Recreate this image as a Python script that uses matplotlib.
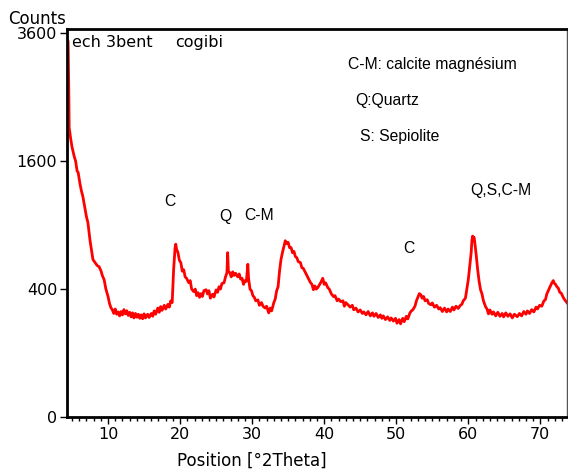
import numpy as np
import matplotlib
matplotlib.use("Agg")
import matplotlib.pyplot as plt
from matplotlib.ticker import MultipleLocator, FixedLocator

# --- data (position in °2Theta, counts) ---
two_theta = [
    4.45, 4.55, 4.6, 4.8, 5.0, 5.3, 5.5, 5.7, 5.85, 6.1,
    6.3, 6.5, 6.8, 7.0, 7.2, 7.5, 7.7, 7.9, 8.1, 8.3,
    8.5, 8.75, 9.03, 9.2, 9.45, 9.7, 10.0, 10.2, 10.4, 10.6,
    10.8, 11.0, 11.2, 11.4, 11.6, 11.8, 12.0, 12.2, 12.4, 12.6,
    12.8, 13.0, 13.2, 13.4, 13.6, 13.8, 14.0, 14.2, 14.4, 14.6,
    14.8, 15.0, 15.2, 15.5, 15.7, 16.0, 16.2, 16.4, 16.6, 16.9,
    17.1, 17.3, 17.5, 17.8, 18.0, 18.3, 18.5, 18.7, 18.9, 19.1,
    19.3, 19.4, 19.5, 19.7, 19.9, 20.1, 20.3, 20.5, 20.7, 20.9,
    21.2, 21.4, 21.6, 21.9, 22.1, 22.3, 22.5, 22.7, 22.9, 23.1,
    23.3, 23.6, 23.8, 24.0, 24.2, 24.5, 24.7, 25.0, 25.2, 25.4,
    25.6, 25.8, 26.1, 26.3, 26.5, 26.6, 26.7, 26.9, 27.1, 27.3,
    27.5, 27.7, 28.0, 28.2, 28.4, 28.6, 28.8, 29.0, 29.2, 29.4,
    29.5, 29.7, 29.9, 30.1, 30.3, 30.5, 30.8, 31.0, 31.3, 31.5,
    31.8, 32.0, 32.3, 32.5, 32.7, 33.0, 33.2, 33.4, 33.6, 33.8,
    34.0, 34.2, 34.4, 34.6, 34.8, 35.0, 35.2, 35.4, 35.6, 35.8,
    36.0, 36.2, 36.4, 36.7, 36.9, 37.1, 37.4, 37.6, 37.8, 38.1,
    38.3, 38.5, 38.7, 38.9, 39.1, 39.3, 39.5, 39.8, 40.0, 40.2,
    40.5, 40.7, 41.0, 41.3, 41.5, 41.8, 42.0, 42.3, 42.6, 42.8,
    43.0, 43.3, 43.6, 43.9, 44.1, 44.4, 44.7, 45.0, 45.3, 45.5,
    45.8, 46.1, 46.4, 46.7, 46.9, 47.2, 47.5, 47.8, 48.0, 48.2,
    48.5, 48.8, 49.1, 49.3, 49.6, 49.9, 50.1, 50.4, 50.6, 50.9,
    51.1, 51.4, 51.6, 51.9, 52.1, 52.3, 52.6, 52.8, 53.0, 53.2,
    53.4, 53.6, 53.8, 54.0, 54.3, 54.5, 54.8, 55.0, 55.3, 55.6,
    55.9, 56.1, 56.4, 56.7, 57.0, 57.2, 57.5, 57.8, 58.0, 58.3,
    58.6, 58.9, 59.1, 59.3, 59.6, 59.8, 60.0, 60.2, 60.4, 60.5,
    60.6, 60.7, 60.8, 60.9, 61.1, 61.3, 61.5, 61.7, 61.9, 62.1,
    62.4, 62.6, 62.8, 63.0, 63.3, 63.5, 63.8, 64.1, 64.4, 64.7,
    64.9, 65.2, 65.5, 65.8, 66.1, 66.4, 66.8, 67.1, 67.4, 67.7,
    68.0, 68.2, 68.5, 68.8, 69.1, 69.4, 69.6, 69.9, 70.2, 70.5,
    70.7, 70.9, 71.1, 71.4, 71.6, 71.8, 71.9, 72.1, 72.3, 72.5,
    72.7, 72.9, 73.2, 73.4, 73.7,
]
counts = [
    3440, 2600, 2050, 1900, 1780, 1660, 1600, 1480, 1462, 1330,
    1250, 1189, 1060, 980, 925, 760, 680, 606, 590, 575,
    560, 553, 520, 490, 461, 400, 354, 315, 292, 280,
    262, 285, 258, 270, 250, 272, 255, 282, 260, 276,
    252, 268, 245, 265, 240, 262, 243, 258, 238, 255,
    236, 260, 240, 258, 242, 262, 248, 275, 258, 290,
    268, 298, 278, 305, 285, 310, 295, 330, 320, 531,
    700, 730, 690, 661, 600, 583, 520, 530, 480, 470,
    441, 455, 400, 384, 400, 360, 378, 350, 372, 355,
    390, 396, 370, 390, 345, 368, 352, 395, 380, 415,
    400, 435, 441, 480, 509, 660, 520, 509, 480, 515,
    490, 505, 480, 500, 465, 470, 430, 455, 450, 570,
    470, 400, 390, 360, 350, 330, 335, 305, 320, 300,
    290, 300, 265, 290, 275, 319, 340, 390, 415, 520,
    606, 660, 710, 760, 735, 745, 700, 702, 660, 670,
    629, 620, 590, 583, 545, 540, 509, 490, 470, 441,
    430, 396, 420, 400, 409, 425, 440, 470, 430, 440,
    409, 400, 370, 354, 360, 330, 340, 325, 330, 300,
    320, 308, 295, 305, 281, 290, 270, 280, 262, 270,
    255, 272, 250, 265, 248, 262, 242, 255, 238, 250,
    232, 245, 228, 240, 225, 238, 215, 232, 212, 238,
    222, 248, 235, 265, 275, 281, 300, 330, 350, 372,
    366, 345, 355, 330, 336, 315, 308, 318, 295, 305,
    285, 292, 272, 290, 270, 285, 272, 295, 280, 300,
    288, 305, 310, 330, 345, 400, 461, 560, 661, 760,
    800, 780, 790, 744, 640, 531, 450, 396, 370, 330,
    297, 285, 260, 280, 258, 270, 250, 268, 248, 262,
    245, 265, 248, 260, 240, 258, 246, 262, 250, 272,
    258, 275, 262, 282, 270, 295, 285, 305, 300, 330,
    336, 370, 390, 420, 440, 455, 440, 430, 415, 405,
    380, 375, 348, 335, 319,
]

y_ticks = [0, 400, 1600, 3600]
x_ticks = [10, 20, 30, 40, 50, 60, 70]

W, H = 568, 469
plt.rcParams['font.family'] = ['DejaVu Sans']
fig = plt.figure(figsize=(W / 100, H / 100), dpi=100)
ax = fig.add_axes([67 / W, 1 - 417 / H, (567 - 67) / W, (417 - 29) / H])

ax.plot(two_theta, counts, color='#ff0000', lw=2.0)

ax.set_yscale('function', functions=(lambda v: np.sqrt(np.clip(v, 0, None)),
                                     lambda v: np.square(v)))
ax.set_xlim(4.3, 73.7)
ax.set_ylim(0, 3680)
ax.yaxis.set_major_locator(FixedLocator(y_ticks))
ax.yaxis.set_minor_locator(FixedLocator([]))
ax.set_yticklabels([str(v) for v in y_ticks])
ax.xaxis.set_major_locator(FixedLocator(x_ticks))
ax.xaxis.set_minor_locator(MultipleLocator(1))
ax.tick_params(axis='both', which='major', direction='out', length=5, width=1,
               labelsize=11.5, pad=2)
ax.tick_params(axis='x', which='minor', direction='out', length=3, width=1)

for side in ['left', 'bottom', 'top']:
    ax.spines[side].set_linewidth(2)
    ax.spines[side].set_color('black')
ax.spines['right'].set_linewidth(1)
ax.spines['right'].set_color('#555555')

def ftext(px, py, s, family='DejaVu Sans', size=12, **kw):
    fig.text(px / W, 1 - py / H, s, family=family, fontsize=size, **kw)

ftext(8, 19, 'Counts', va='center', ha='left')
ftext(252, 461, 'Position [°2Theta]', va='center', ha='center')
ftext(72, 47, 'ech 3bent', size=11.5, va='baseline', ha='left')
ftext(175, 47, 'cogibi', size=11.5, va='baseline', ha='left')

ann = 'Liberation Sans'
ftext(170, 201, 'C', family=ann, size=11.3, va='center', ha='center')
ftext(225, 216, 'Q', family=ann, size=11.3, va='center', ha='center')
ftext(259, 215, 'C-M', family=ann, size=11.3, va='center', ha='center')
ftext(409, 248, 'C', family=ann, size=11.3, va='center', ha='center')
ftext(501, 190, 'Q,S,C-M', family=ann, size=11.3, va='center', ha='center')
ftext(348, 64, 'C-M: calcite magnésium', family=ann, size=11.3, va='center', ha='left')
ftext(355, 101, 'Q:Quartz', family=ann, size=11.3, va='center', ha='left')
ftext(360, 136, 'S: Sepiolite', family=ann, size=11.3, va='center', ha='left')

fig.savefig('out.png', dpi=100)
